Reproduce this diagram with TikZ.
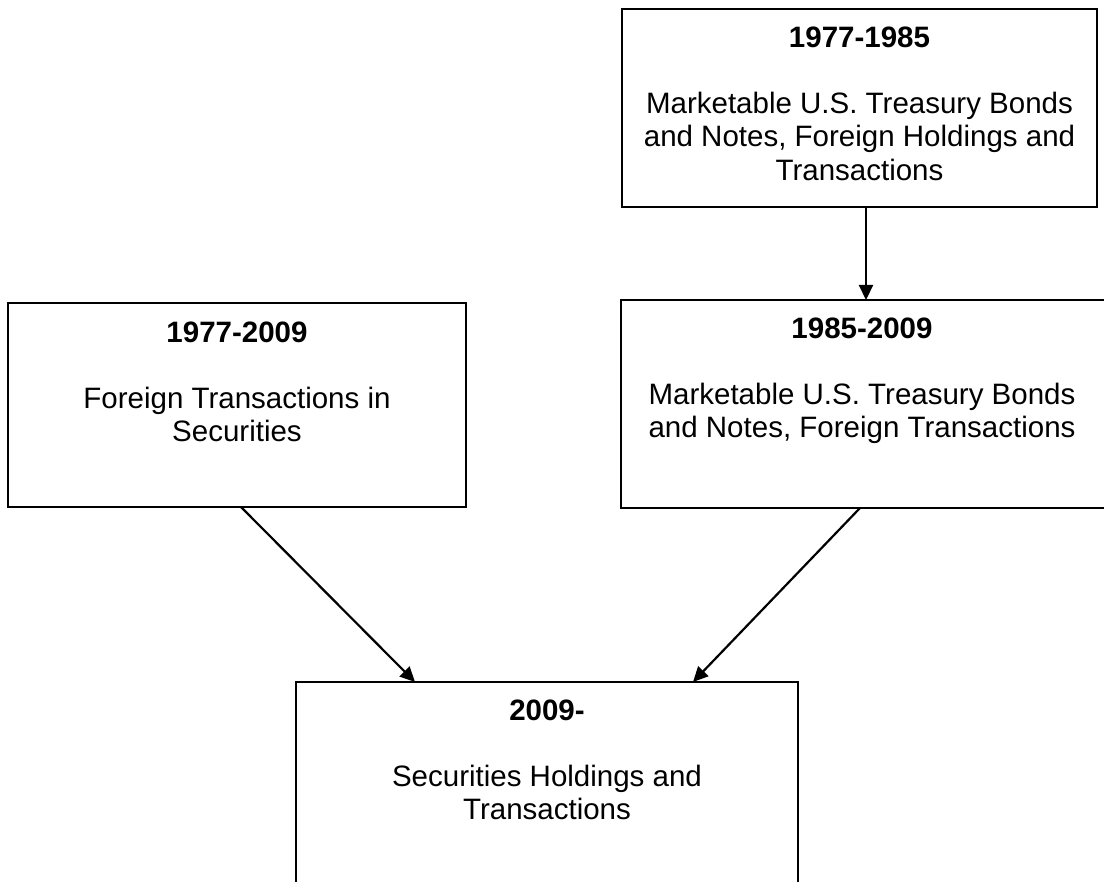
\documentclass[tikz,border=0pt]{standalone}
\usepackage{fontspec}
\setmainfont{Liberation Sans}
\usetikzlibrary{arrows.meta}
\begin{document}
\begin{tikzpicture}[x=1pt,y=-1pt,
  box/.style={draw=black,line width=2.1pt,inner sep=0pt,outer sep=0pt,anchor=north west},
  txt/.style={align=center,inner sep=0pt,anchor=north,font=\fontsize{29.5}{33.5}\selectfont},
  arr/.style={line width=2.2pt,-{Triangle[length=15pt,width=14pt]}}]
\useasboundingbox[fill=white] (0,0) rectangle (1104,882);
% boxes
\node[box,minimum width=475pt,minimum height=198pt] (t) at (622,9) {};
\node[box,minimum width=490pt,minimum height=208pt] (r) at (621,300) {};
\node[box,minimum width=458pt,minimum height=204pt] (l) at (8,303) {};
\node[box,minimum width=502pt,minimum height=230pt] (b) at (296,682) {};
% texts
\node[txt] (tt) at (859.5,26.5) {\textbf{1977-1985}\\[32.5pt]Marketable U.S. Treasury Bonds\\and Notes, Foreign Holdings and\\Transactions};
\node[txt] (rt) at (862,317.5) {\textbf{1985-2009}\\[32.5pt]Marketable U.S. Treasury Bonds\\and Notes, Foreign Transactions};
\node[txt] (lt) at (237,321.5) {\textbf{1977-2009}\\[32.5pt]Foreign Transactions in\\Securities};
\node[txt] (bt) at (547,699.5) {\textbf{2009-}\\[32.5pt]Securities Holdings and\\Transactions};
% connectors
\draw[arr] ([xshift=6.5pt]t.south) -- (r.north);
\draw[arr] ([xshift=4pt]l.south) -- ([xshift=-132pt]b.north);
\draw[arr] ([xshift=-6pt]r.south) -- ([xshift=146pt]b.north);
\end{tikzpicture}
\end{document}
